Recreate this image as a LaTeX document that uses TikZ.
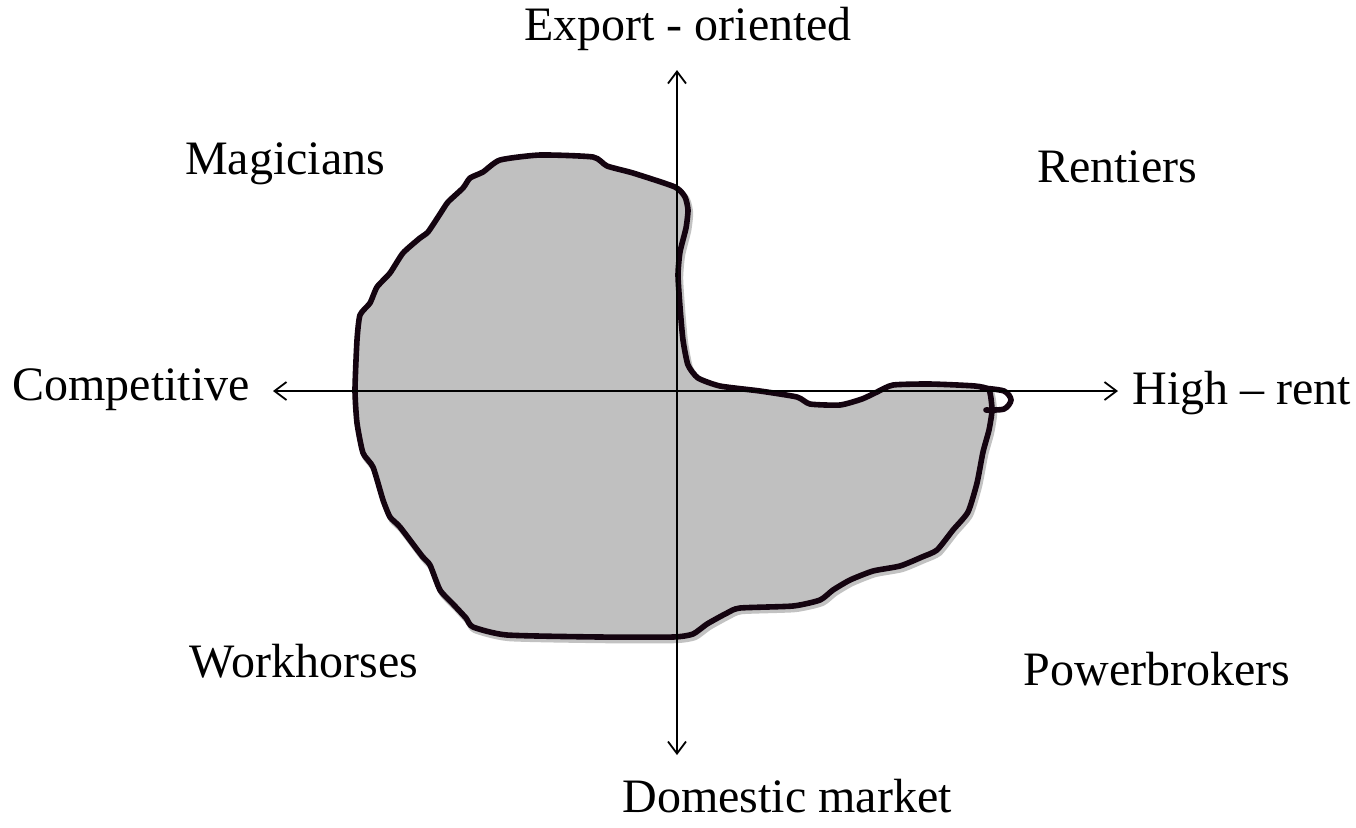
\documentclass[tikz,border=0pt]{standalone}
\usepackage{fontspec}
\setmainfont{Liberation Serif}
\usetikzlibrary{arrows.meta}
\definecolor{blobgray}{RGB}{192,192,192}
\definecolor{blobline}{RGB}{20,4,16}
\tikzset{>={Straight Barb[length=6pt,width=9pt]}}
\tikzset{
  lbl/.style={font=\fontsize{24}{28}\selectfont, inner sep=0pt, anchor=base},
  axisline/.style={<->, line width=0.9pt},
  blobshape/.style={fill=blobgray, draw=blobline, line width=2.8pt, line join=round},
  blobshadow/.style={draw=black!40, opacity=0.6, line width=3.2pt, shift={(2,3)}}
}
\def\blobpts{(675,187) (685,197) (688,210) (686,228) (680,252) (678,275) (680,307) (683,340) (688,365) (698,378) (720,386) (760,391) (797,397) (810,404) (840,405) (862,399) (877,392) (893,385) (930,384) (975,386) (989,390) (992,410) (989,430) (983,452) (977,483) (968,512) (953,530) (937,550) (922,557) (900,566) (873,571) (850,580) (833,590) (820,600) (793,606) (740,608) (727,613) (707,624) (693,634) (673,637) (600,637) (507,635) (473,627) (466,618) (453,604) (440,590) (430,565) (422,556) (400,527) (390,517) (383,500) (373,467) (363,453) (357,423) (355,390) (357,340) (360,315) (370,303) (377,287) (390,273) (403,253) (420,238) (428,232) (440,214) (448,202) (463,188) (470,178) (483,172) (500,160) (540,155) (593,157) (607,166) (633,173)}
\begin{document}
\begin{tikzpicture}[x=0.5pt, y=-0.5pt]
  \useasboundingbox (0,0) rectangle (1356,827);
  % blob
  \draw[blobshadow] plot[smooth cycle, tension=0.35] coordinates {\blobpts};
  \draw[blobshape] plot[smooth cycle, tension=0.35] coordinates {\blobpts};
  \draw[blobline, line width=2.8pt, line cap=round] plot[smooth, tension=0.5] coordinates {(982,388) (1004,391) (1011,400) (1004,409) (986,410)};
  % axes
  \coordinate (ytop) at (677,70);
  \coordinate (ybot) at (677,755);
  \coordinate (xleft) at (273,391);
  \coordinate (xright) at (1118,391);
  \draw[axisline] (ybot) -- (ytop);
  \draw[axisline] (xleft) -- (xright);
  % labels
  \node[lbl] (export) at (688,40) {Export - oriented};
  \node[lbl] (domestic) at (787,812) {Domestic market};
  \node[lbl] (competitive) at (131,400) {Competitive};
  \node[lbl] (highrent) at (1242,404) {High -- rent};
  \node[lbl] (magicians) at (285,174) {Magicians};
  \node[lbl] (rentiers) at (1117,182) {Rentiers};
  \node[lbl] (workhorses) at (304,677) {Workhorses};
  \node[lbl] (powerbrokers) at (1157,685) {Powerbrokers};
\end{tikzpicture}
\end{document}
